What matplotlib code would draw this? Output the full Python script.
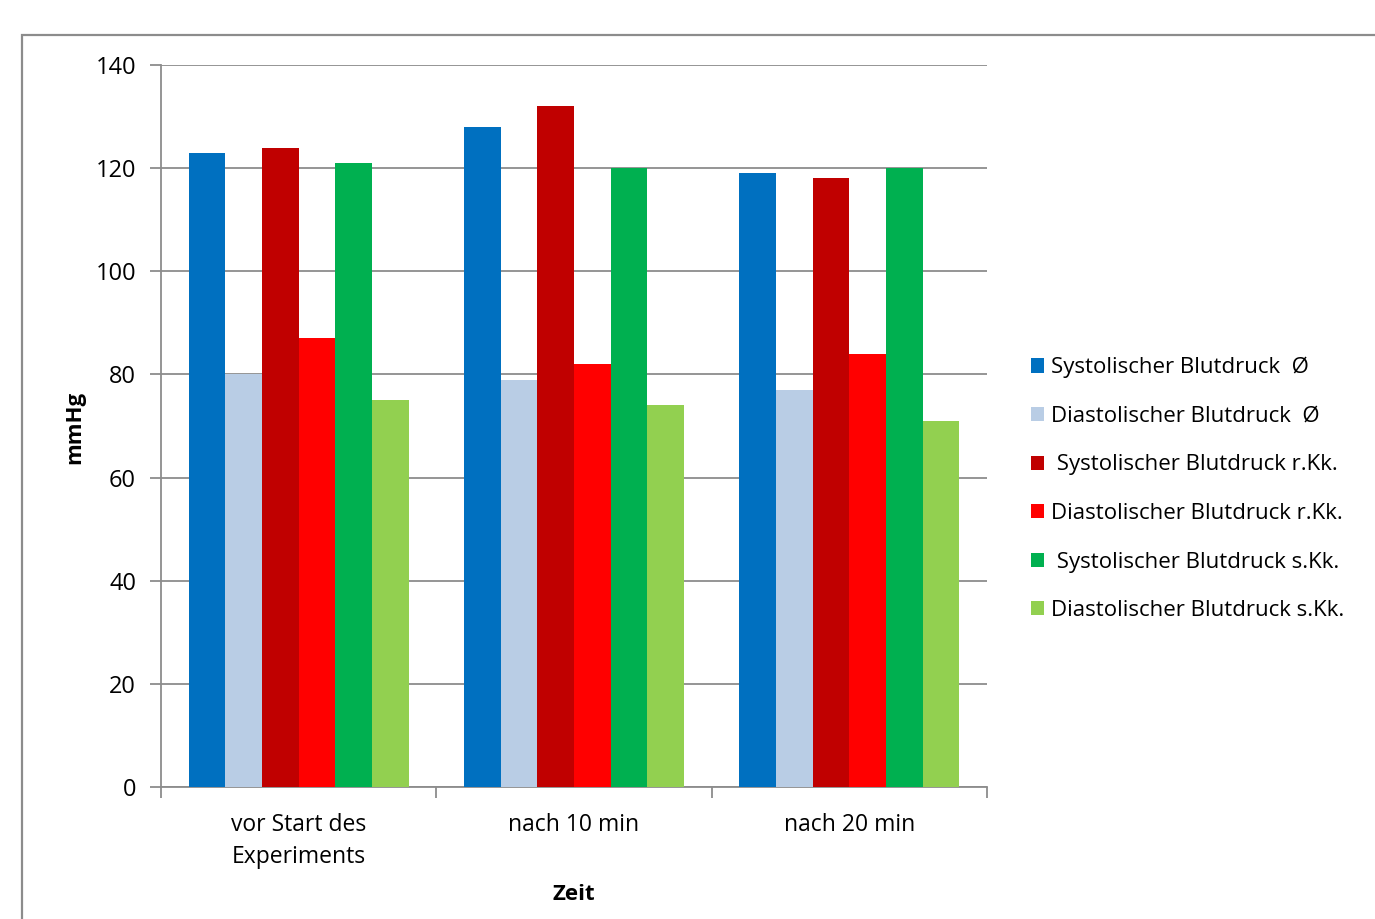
import numpy as np
import matplotlib
matplotlib.use("Agg")
import matplotlib.pyplot as plt
from matplotlib.patches import Rectangle

plt.rcParams['font.family'] = ['Open Sans', 'DejaVu Sans']

# data
categories = ["vor Start des\nExperiments", "nach 10 min", "nach 20 min"]
series_names = ["Systolischer Blutdruck  Ø",
                "Diastolischer Blutdruck  Ø",
                " Systolischer Blutdruck r.Kk.",
                "Diastolischer Blutdruck r.Kk.",
                " Systolischer Blutdruck s.Kk.",
                "Diastolischer Blutdruck s.Kk."]
sys_avg = [123, 128, 119]
dia_avg = [80, 79, 77]
sys_rkk = [124, 132, 118]
dia_rkk = [87, 82, 84]
sys_skk = [121, 120, 120]
dia_skk = [75, 74, 71]
colors = ["#0070C0", "#B9CDE5", "#C00000", "#FF0000", "#00B050", "#92D050"]

series = [sys_avg, dia_avg, sys_rkk, dia_rkk, sys_skk, dia_skk]

fig = plt.figure(figsize=(13.75, 9.19), dpi=100)
W, H = 1375, 919
ax = fig.add_axes([161 / W, 1 - 787 / H, (987 - 161) / W, (787 - 65) / H])

# outer chart frame
fig.patches.append(Rectangle((22 / W, -0.1), 1.2, (1 - 35 / H) + 0.1,
                             transform=fig.transFigure, fill=False,
                             edgecolor="#8c8c8c", linewidth=1.6))

x = np.arange(len(categories))
bw = 0.8 / len(series)
handles = []
for i, vals in enumerate(series):
    b = ax.bar(x - 0.4 + bw * (i + 0.5), vals, width=bw, color=colors[i],
               label=series_names[i], zorder=3, linewidth=0)
    handles.append(b)

ax.set_xlim(-0.5, 2.5)
ax.set_ylim(0, 140)
ax.set_yticks(range(0, 141, 20))
ax.yaxis.grid(True, color="#8c8c8c", linewidth=1.3, zorder=0)
ax.set_axisbelow(True)

ax.set_xticks([-0.5, 0.5, 1.5, 2.5])
ax.set_xticklabels([])
ax.set_xticks(x, minor=True)
ax.set_xticklabels(categories, minor=True, fontsize=16.5, linespacing=1.45)
ax.tick_params(axis="x", which="minor", length=0, pad=19)
ax.tick_params(axis="x", which="major", length=8, color="#8c8c8c", width=1.3)
ax.tick_params(axis="y", length=8, color="#8c8c8c", width=1.3, labelsize=17, pad=10)

for s in ["top", "right"]:
    ax.spines[s].set_visible(False)
for s in ["left", "bottom"]:
    ax.spines[s].set_color("#8c8c8c")
    ax.spines[s].set_linewidth(1.3)

fig.text(75 / W, 1 - 427 / H, "mmHg", rotation=90, fontsize=16, fontweight="bold",
         ha="center", va="center")
fig.text(574 / W, 1 - 895 / H, "Zeit", fontsize=16, fontweight="bold",
         ha="center", va="center")

fig.legend(handles=handles, loc="center left", bbox_to_anchor=(1020 / W, 1 - 489 / H),
           frameon=False, fontsize=16, handlelength=0.6, handleheight=0.6,
           handletextpad=0.3, labelspacing=1.24, borderpad=0)

fig.savefig("out.png", dpi=100)
